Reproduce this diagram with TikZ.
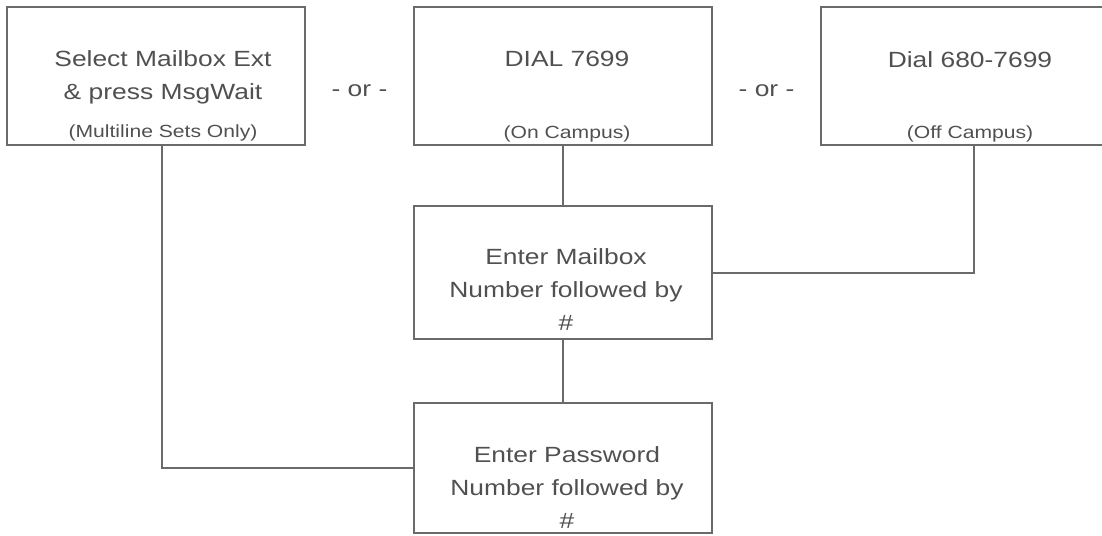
\documentclass[tikz,border=0pt]{standalone}
\usepackage{fontspec}
\setmainfont{Liberation Sans}[FakeStretch=1.2]
\usetikzlibrary{positioning,calc}
\definecolor{inkgray}{HTML}{505050}
\definecolor{linegray}{HTML}{6A6A6A}

\begin{document}
\begin{tikzpicture}[
  x=0.5pt, y=-0.5pt,
  stepbox/.style={draw=linegray, line width=1pt, minimum width=149pt, minimum height=69pt, inner sep=0pt},
  boxtext/.style={font=\fontsize{11}{16.5}\selectfont, text=inkgray, align=center, inner sep=0pt, anchor=north},
  subtext/.style={font=\fontsize{8.8}{10}\selectfont, text=inkgray, inner sep=0pt, anchor=base},
  link/.style={draw=linegray, line width=1pt}
]
\useasboundingbox (0,0) rectangle (1102,535);
\clip (0,0) rectangle (1102,535);

\node[stepbox] (sel) at (156,76) {};
\node[stepbox, right=53.5pt of sel] (dial) {};
\node[stepbox, right=53.5pt of dial] (off) {};
\node[stepbox, minimum height=66.5pt, below=29.5pt of dial] (mbox) {};
\node[stepbox, minimum height=65pt, below=31pt of mbox] (pwd) {};

\node[boxtext] (selT) at ($(sel.north)+(7,44)$) {Select Mailbox Ext\\ \& press MsgWait};
\node[subtext] (selS) at ($(sel.south)+(7,-9)$) {(Multiline Sets Only)};
\node[boxtext] (dialT) at ($(dial.north)+(4,45)$) {DIAL 7699};
\node[subtext] (dialS) at ($(dial.south)+(4,-7)$) {(On Campus)};
\node[boxtext] (offT) at ($(off.north)+(0,45)$) {Dial 680-7699};
\node[subtext] (offS) at ($(off.south)+(0,-7)$) {(Off Campus)};
\node[boxtext] (mboxT) at ($(mbox.north)+(3,43)$) {Enter Mailbox\\Number followed by\\\#};
\node[boxtext] (pwdT) at ($(pwd.north)+(4,44)$) {Enter Password\\Number followed by\\\#};

\node[boxtext, anchor=base] (or1) at ($(sel.east)!0.5!(dial.west)+(0,21)$) {- or -};
\node[boxtext, anchor=base] (or2) at ($(dial.east)!0.5!(off.west)+(0,21)$) {- or -};

\draw[link] ([xshift=3pt]sel.south) |- (pwd.west);
\draw[link] (dial.south) -- (mbox.north);
\draw[link] ([xshift=2pt]off.south) |- (mbox.east);
\draw[link] (mbox.south) -- (pwd.north);
\end{tikzpicture}
\end{document}
